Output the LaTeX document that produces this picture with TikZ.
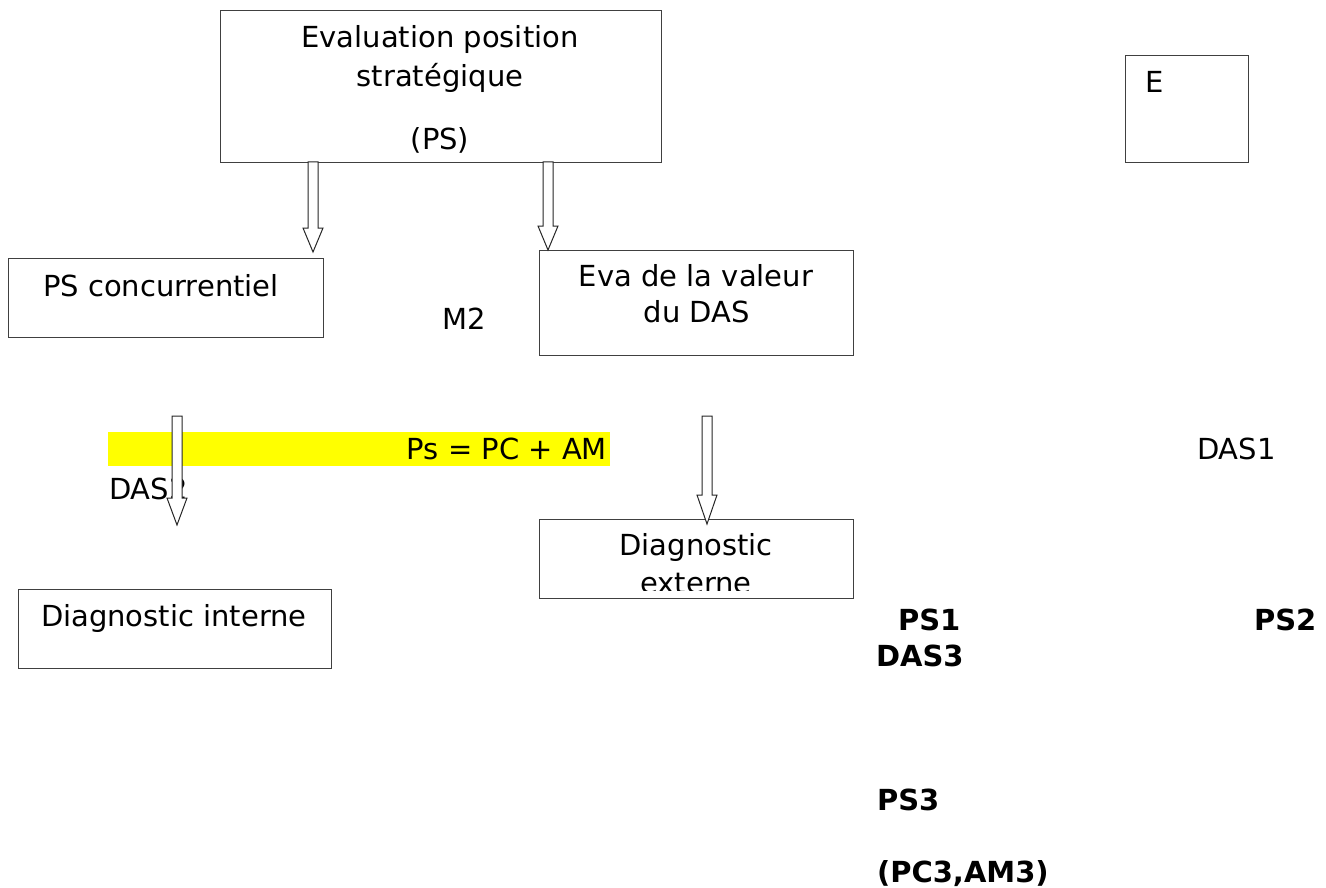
\documentclass[tikz,border=0pt]{standalone}
\usepackage{fontspec}
\setmainfont{DejaVu Sans}
\definecolor{hlyellow}{RGB}{255,255,0}
\begin{document}
\begin{tikzpicture}[x=1pt,y=-1pt,
  boxed/.style={draw=black!75,line width=1.1pt,fill=none},
  txt/.style={inner sep=0pt,outer sep=0pt,anchor=base,font=\fontsize{29}{35}\selectfont},
  txtl/.style={txt,anchor=base west},
  btxt/.style={txtl,font=\fontsize{29}{35}\selectfont\bfseries},
  blk/.style={draw=black!85,line width=1pt,fill=white,line join=miter}]
\useasboundingbox (0,0) rectangle (1326,888);
\newcommand\blkarrow[4]{%
  \draw[blk] (#1-5,#2) -- (#1-5,#3-#4) -- (#1-10,#3-#4) -- (#1,#3) -- (#1+10,#3-#4) -- (#1+5,#3-#4) -- (#1+5,#2) -- cycle;}

% boxes
\node[boxed,inner sep=0pt,minimum width=441pt,minimum height=152pt,anchor=north west] (eval) at (220,10) {};
\node[boxed,inner sep=0pt,minimum width=123pt,minimum height=107pt,anchor=north west] (ebox) at (1125,55) {};
\node[boxed,inner sep=0pt,minimum width=315pt,minimum height=79pt,anchor=north west] (psc) at (8,258) {};
\node[boxed,inner sep=0pt,minimum width=314pt,minimum height=105pt,anchor=north west] (eva) at (539,250) {};
\node[boxed,inner sep=0pt,minimum width=314pt,minimum height=79pt,anchor=north west] (dext) at (539,519) {};
\node[boxed,inner sep=0pt,minimum width=313pt,minimum height=79pt,anchor=north west] (dint) at (18,589) {};

% texts in boxes
\node[txt] (t1) at (440,48) {Evaluation position};
\node[txt] (t2) at (440,87) {stratégique};
\node[txt] (t3) at (440,150) {(PS)};
\node[txtl] (tE) at (1145,93) {E};
\node[txtl] (tpsc) at (43,296) {PS concurrentiel};
\node[txtl] (tm2) at (442,329) {M2};
\node[txt] (teva1) at (696,286) {Eva de la valeur};
\node[txt] (teva2) at (697,322) {du DAS};
\begin{scope}
\clip (539,519) rectangle (853,590);
\node[txt] (tdx1) at (696,555) {Diagnostic};
\node[txt] (tdx2) at (696,593) {externe};
\end{scope}
\node[txtl] (tdi) at (41,626) {Diagnostic interne};

% yellow highlight
\fill[hlyellow] (108,432) rectangle (610,466);
\node[txt,anchor=base east] (tps) at (607,459) {Ps = PC + AM};
\node[txtl] (tdas2) at (109,499) {DAS2};
\node[txtl] (tdas1) at (1197,459) {DAS1};

% bold texts
\node[btxt] (ps1) at (898,630) {PS1};
\node[btxt] (ps2) at (1254,630) {PS2};
\node[btxt] (das3) at (876,666) {DAS3};
\node[btxt] (ps3) at (877,810) {PS3};
\node[btxt] (pcam) at (877,882) {(PC3,AM3)};

% block arrows
\blkarrow{313}{162}{252}{24}
\blkarrow{548}{162}{250}{24}
\blkarrow{177}{416}{525}{27}
\blkarrow{707}{416}{524}{29}
\end{tikzpicture}
\end{document}
